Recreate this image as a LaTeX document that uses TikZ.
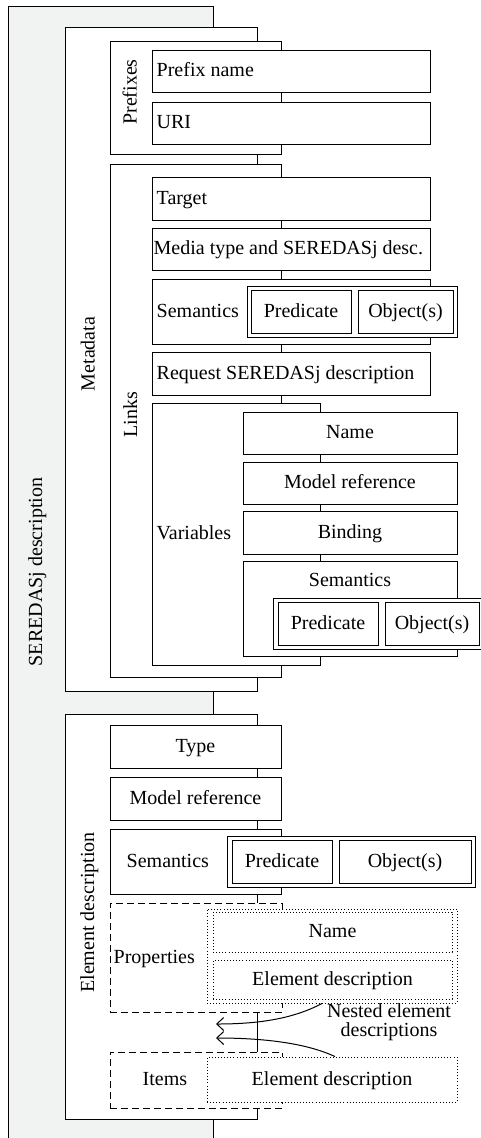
\documentclass[tikz,border=0pt]{standalone}
\usepackage{fontspec}
\setmainfont{Liberation Serif}
\usetikzlibrary{arrows.meta,
                positioning
            }
\definecolor{outergray}{RGB}{241,242,242}

\tikzset{
    box/.style={draw, fill=white, line width=1pt, inner sep=0pt,
                text height=14pt, text depth=3pt},
    dashbox/.style={box, dash pattern=on 7pt off 4pt},
    dotbox/.style={box, line width=0.9pt, dash pattern=on 0.9pt off 2.2pt},
    txt/.style={inner sep=0pt, text height=14pt, text depth=3pt},
    nest/.style={line width=1pt, -{Straight Barb[length=7pt, width=13pt]}}
}

\begin{document}
\begin{tikzpicture}[x=1pt, y=1pt, every node/.style={font=\fontsize{20}{24}\selectfont}]
            \useasboundingbox (0,0) rectangle (480,-1138);
            % outer frame
            \node[box, fill=outergray, minimum width=205pt, minimum height=1144pt] (seredasj) at (110.5,-578) {};
            % metadata
            \node[box, minimum width=192pt, minimum height=664pt] (metadata) at (161,-359) {};
            \node[box, minimum width=171pt, minimum height=113pt] (prefixes) at (195.5,-97.5) {};
            \node[box, minimum width=278pt, minimum height=42pt] (prefname) at (291,-71) {};
            \node[box, minimum width=278pt, minimum height=42pt] (uri) at (291,-123) {};
            \node[box, minimum width=171pt, minimum height=513pt] (links) at (195.5,-420.5) {};
            \node[box, minimum width=278pt, minimum height=43pt] (target) at (291,-198.5) {};
            \node[box, minimum width=278pt, minimum height=42pt] (media) at (291,-249) {};
            \node[box, minimum width=278pt, minimum height=65pt] (linksem) at (291,-311.5) {};
            \node[box, minimum width=210pt, minimum height=51pt] (linkpair) at (352,-311.5) {};
            \node[box, minimum width=100pt, minimum height=43pt] (linkpred) at (301,-311.5) {Predicate};
            \node[box, minimum width=95pt, minimum height=43pt] (linkobj) at (405.5,-311.5) {Object(s)};
            \node[box, minimum width=278pt, minimum height=43pt] (request) at (291,-373.5) {};
            \node[box, minimum width=168pt, minimum height=262pt] (variables) at (236,-534) {};
            \node[box, minimum width=214pt, minimum height=42pt] (varname) at (350,-433) {Name};
            \node[box, minimum width=214pt, minimum height=42pt] (varmodel) at (350,-483) {Model reference};
            \node[box, minimum width=214pt, minimum height=43pt] (binding) at (350,-532.5) {Binding};
            \node[box, minimum width=214pt, minimum height=95pt] (varsem) at (350,-608.5) {};
            \node[box, minimum width=211pt, minimum height=51pt] (varpair) at (378.5,-623.5) {};
            \node[box, minimum width=100pt, minimum height=43pt] (varpred) at (328,-623.5) {Predicate};
            \node[box, minimum width=94pt, minimum height=43pt] (varobj) at (432,-623.5) {Object(s)};
            % element description
            \node[box, minimum width=192pt, minimum height=405pt] (elemdesc) at (161,-916.5) {};
            \node[box, minimum width=171pt, minimum height=43pt] (type) at (195.5,-746.5) {Type};
            \node[box, minimum width=171pt, minimum height=43pt] (elmodel) at (195.5,-798.5) {Model reference};
            \node[box, minimum width=171pt, minimum height=65pt] (elsem) at (195.5,-861.5) {};
            \node[box, minimum width=248pt, minimum height=51pt] (elpair) at (351,-861.5) {};
            \node[box, minimum width=100pt, minimum height=43pt] (elpred) at (282,-861.5) {Predicate};
            \node[box, minimum width=132pt, minimum height=43pt] (elobj) at (405,-861.5) {Object(s)};
            \node[dashbox, minimum width=172pt, minimum height=109pt] (props) at (196,-957.5) {};
            \node[dotbox, minimum width=250pt, minimum height=94pt] (propgrp) at (332,-956) {};
            \node[dotbox, minimum width=239pt, minimum height=40pt] (propname) at (332.5,-932) {Name};
            \node[dotbox, minimum width=239pt, minimum height=39pt] (propelem) at (332.5,-979.5) {Element description};
            \node[dashbox, minimum width=172pt, minimum height=56pt] (items) at (196,-1080) {};
            \node[dotbox, minimum width=250pt, minimum height=45pt] (itemelem) at (332,-1079.5) {Element description};
            % nested arrows
            \coordinate (nestA) at (216,-1024);
            \coordinate (nestB) at (216,-1038);
            \draw[nest] ([xshift=-10pt]propgrp.south) .. controls +(-30,-16) and +(40,0) .. (nestA);
            \draw[nest] ([xshift=3pt]itemelem.north) .. controls +(-30,14) and +(45,0) .. (nestB);
            \node[txt, align=center, font=\fontsize{20}{19}\selectfont] (nestlbl) at (389,-1031) {Nested element\\descriptions};
            % labels
            \node[txt, rotate=90] (lblsered) at (36.5,-572) {SEREDASj description};
            \node[txt, rotate=90] (lblmeta) at (89,-354) {Metadata};
            \node[txt, rotate=90] (lblpref) at (131,-92) {Prefixes};
            \node[txt, rotate=90] (lbllinks) at (131.5,-414.5) {Links};
            \node[txt, rotate=90] (lblelem) at (88.5,-912.5) {Element description};
            \node[txt, right=5pt of prefname.west] {Prefix name};
            \node[txt, right=5pt of uri.west] {URI};
            \node[txt, right=5pt of target.west] {Target};
            \node[txt, right=2pt of media.west] {Media type and SEREDASj desc.};
            \node[txt, right=5pt of linksem.west] {Semantics};
            \node[txt, right=5pt of request.west] {Request SEREDASj description};
            \node[txt, right=5pt of variables.west] {Variables};
            \node[txt, below=12pt of varsem.north] {Semantics};
            \node[txt, right=17pt of elsem.west] {Semantics};
            \node[txt, right=4pt of props.west] {Properties};
            \node[txt, right=33pt of items.west] {Items};
        \end{tikzpicture}
\end{document}
